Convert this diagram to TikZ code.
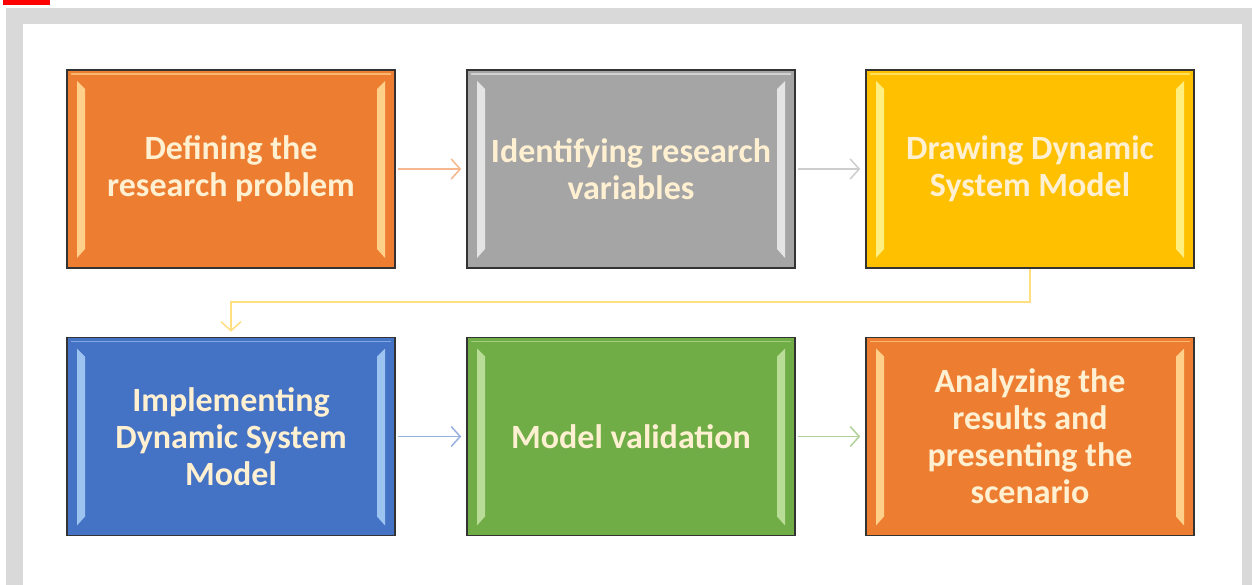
\documentclass[tikz,border=0pt]{standalone}
\usepackage{fontspec}
\setmainfont{Carlito}
\usetikzlibrary{arrows.meta}
\definecolor{cOrange}{HTML}{ED7D31}
\definecolor{cGray}{HTML}{A5A5A5}
\definecolor{cYellow}{HTML}{FFC000}
\definecolor{cBlue}{HTML}{4472C4}
\definecolor{cGreen}{HTML}{70AD47}
\definecolor{lOrange}{HTML}{FFD08A}
\definecolor{lGray}{HTML}{E4E4E4}
\definecolor{lYellow}{HTML}{FFEE80}
\definecolor{lBlue}{HTML}{9DC3F0}
\definecolor{lGreen}{HTML}{B9DC96}
\definecolor{txt}{HTML}{FFF0D2}
\definecolor{frameGray}{HTML}{D9D9D9}
\definecolor{redMark}{HTML}{FF0000}
\tikzset{
  box/.style 2 args={draw=black!80, line width=1.6pt, fill=#1, minimum width=328pt, minimum height=198pt,
    inner sep=0pt, align=center, text=txt, font=\bfseries\fontsize{34}{37}\selectfont,
    path picture={
      \fill[#2] ([xshift=10pt,yshift=-11pt]path picture bounding box.north west) -- ([xshift=18pt,yshift=-19pt]path picture bounding box.north west)
        -- ([xshift=18pt,yshift=19pt]path picture bounding box.south west) -- ([xshift=10pt,yshift=10pt]path picture bounding box.south west) -- cycle;
      \fill[#2] ([xshift=-10pt,yshift=-11pt]path picture bounding box.north east) -- ([xshift=-18pt,yshift=-19pt]path picture bounding box.north east)
        -- ([xshift=-18pt,yshift=19pt]path picture bounding box.south east) -- ([xshift=-10pt,yshift=10pt]path picture bounding box.south east) -- cycle;
      \draw[#2, line width=1.2pt, opacity=0.7] ([xshift=4pt,yshift=-4pt]path picture bounding box.north west) -- ([xshift=-4pt,yshift=-4pt]path picture bounding box.north east);
    }},
  flow/.style={line width=1.5pt, -{Straight Barb[length=9pt,width=20pt,line width=1.5pt]}, shorten >=5pt, shorten <=2pt},
}
\begin{document}
\begin{tikzpicture}[x=1pt,y=-1pt]
\useasboundingbox (0,0) rectangle (1252,585);
\fill[white] (0,0) rectangle (1252,585);
\fill[frameGray] (6,8) rectangle (1252,585);
\fill[white] (23,24) rectangle (1242,585);
\fill[redMark] (3,0) rectangle (50,5);

\node[box={cOrange}{lOrange}] (b1) at (231,169) {Defining the\\research problem};
\node[box={cGray}{lGray}]     (b2) at (631,169) {Identifying research\\variables};
\node[box={cYellow}{lYellow}] (b3) at (1030,169) {Drawing Dynamic\\System Model};
\node[box={cBlue}{lBlue}]     (b4) at (231,436.5) {Implementing\\Dynamic System\\Model};
\node[box={cGreen}{lGreen}]   (b5) at (631,436.5) {Model validation};
\node[box={cOrange}{lOrange}] (b6) at (1030,436.5) {Analyzing the\\results and\\presenting the\\scenario};

\draw[flow, draw=cOrange!55] (b1) -- (b2);
\draw[flow, draw=cGray!55] (b2) -- (b3);
\draw[flow, draw=cBlue!55] (b4) -- (b5);
\draw[flow, draw=cGreen!55] (b5) -- (b6);
\coordinate (c1) at (1030,302);
\coordinate (c2) at (231,302);
\draw[flow, draw=cYellow!50, shorten <=0pt] (b3.south) -- (c1) -- (c2) -- (b4.north);
\end{tikzpicture}
\end{document}
